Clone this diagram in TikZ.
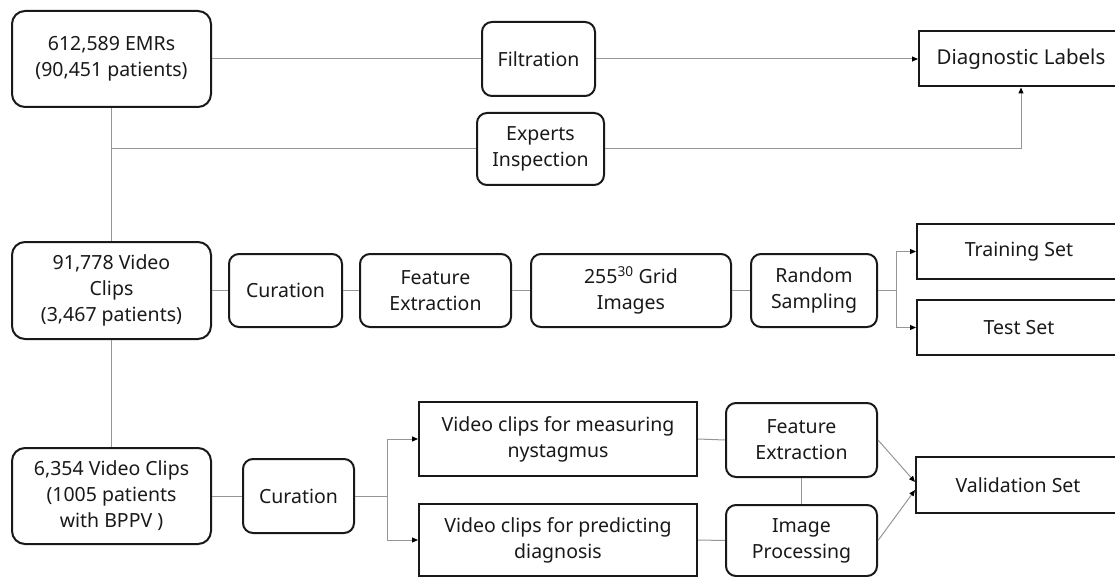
\documentclass[tikz,border=0pt]{standalone}
\usepackage{fontspec}
\setmainfont{Noto Sans}
\usetikzlibrary{arrows.meta}
\definecolor{linkgray}{RGB}{150,150,150}
\definecolor{ink}{RGB}{25,25,25}
\tikzset{
  txt/.style={font=\fontsize{19.5}{26}\selectfont, text=ink, align=center, inner sep=0pt},
  rbox/.style={txt, draw=ink, line width=2pt, rounded corners=10pt},
  sbox/.style={txt, draw=ink, line width=2pt},
  link/.style={draw=linkgray, line width=1pt},
  arr/.style={link, -{Triangle[length=6pt,width=5pt,color=black]}},
}
\begin{document}
\begin{tikzpicture}[x=1pt,y=-1pt]
\useasboundingbox (0,0) rectangle (1115,577);

% EMR branch
\node[rbox, rounded corners=13pt, minimum width=199pt, minimum height=96pt] (emr) at (111.5,59) {612,589 EMRs\\(90,451 patients)};
\node[rbox, minimum width=113pt, minimum height=74pt] (filt) at (538.5,59) {Filtration};
\node[rbox, minimum width=127pt, minimum height=72pt] (exp) at (540.5,149) {Experts\\Inspection};
\node[sbox, font=\fontsize{20.5}{26}\selectfont, minimum width=204pt, minimum height=55pt] (diag) at (1021,59) {Diagnostic Labels};

% video clip row
\node[rbox, rounded corners=13pt, minimum width=199pt, minimum height=97pt] (clips) at (111.5,290.5) {91,778 Video\\Clips\\(3,467 patients)};
\node[rbox, minimum width=113pt, minimum height=73pt] (cur1) at (285.5,290.5) {Curation};
\node[rbox, minimum width=151pt, minimum height=73pt] (fe1) at (435.5,290.5) {Feature\\Extraction};
\node[rbox, minimum width=200pt, minimum height=73pt] (grid) at (631,290.5) {255\textsuperscript{30} Grid\\Images};
\node[rbox, minimum width=126pt, minimum height=73pt] (rs) at (814,290.5) {Random\\Sampling};
\node[sbox, minimum width=204pt, minimum height=55pt] (train) at (1019,251.5) {Training Set};
\node[sbox, minimum width=204pt, minimum height=55pt] (test) at (1019,327.5) {Test Set};

% BPPV row
\node[rbox, rounded corners=13pt, minimum width=199pt, minimum height=96pt] (bppv) at (111.5,496) {6,354 Video Clips\\(1005 patients\\with BPPV )};
\node[rbox, minimum width=111pt, minimum height=74pt] (cur2) at (298.5,496) {Curation};
\node[sbox, minimum width=278pt, minimum height=74pt] (meas) at (558,439) {Video clips for measuring\\nystagmus};
\node[sbox, minimum width=278pt, minimum height=72pt] (pred) at (558,540) {Video clips for predicting\\diagnosis};
\node[rbox, minimum width=151pt, minimum height=74pt] (fe2) at (801.5,440) {Feature\\Extraction};
\node[rbox, minimum width=151pt, minimum height=71pt] (ip) at (801.5,540.5) {Image\\Processing};
\node[sbox, minimum width=204pt, minimum height=56pt] (val) at (1018,485) {Validation Set};

% branch points
\coordinate (b1) at (896,290.5);
\coordinate (b2) at (387,496);

% connectors: EMR
\draw[link] (emr.east) -- (filt.west);
\draw[arr] (filt.east) -- (diag.west);
\draw[link] (emr.south) -- (clips.north);
\draw[link] (emr.south |- exp.west) -- (exp.west);
\draw[arr] (exp.east) -| (diag.south);

% connectors: video clips
\draw[link] (clips.east) -- (cur1.west);
\draw[link] (cur1.east) -- (fe1.west);
\draw[link] (fe1.east) -- (grid.west);
\draw[link] (grid.east) -- (rs.west);
\draw[link] (rs.east) -- (b1);
\draw[arr] (b1) |- (train.west);
\draw[arr] (b1) |- (test.west);

% connectors: BPPV
\draw[link] (clips.south) -- (bppv.north);
\draw[link] (bppv.east) -- (cur2.west);
\draw[link] (cur2.east) -- (b2);
\draw[arr] (b2) |- (meas.west);
\draw[arr] (b2) |- (pred.west);
\draw[link] (meas.east) -- (fe2.west);
\draw[link] (pred.east) -- (ip.west);
\draw[link] (fe2.south) -- (ip.north);
\draw[arr] (fe2.east) -- ([yshift=3pt]val.west);
\draw[arr] (ip.east) -- ([yshift=-5pt]val.west);
\end{tikzpicture}
\end{document}
